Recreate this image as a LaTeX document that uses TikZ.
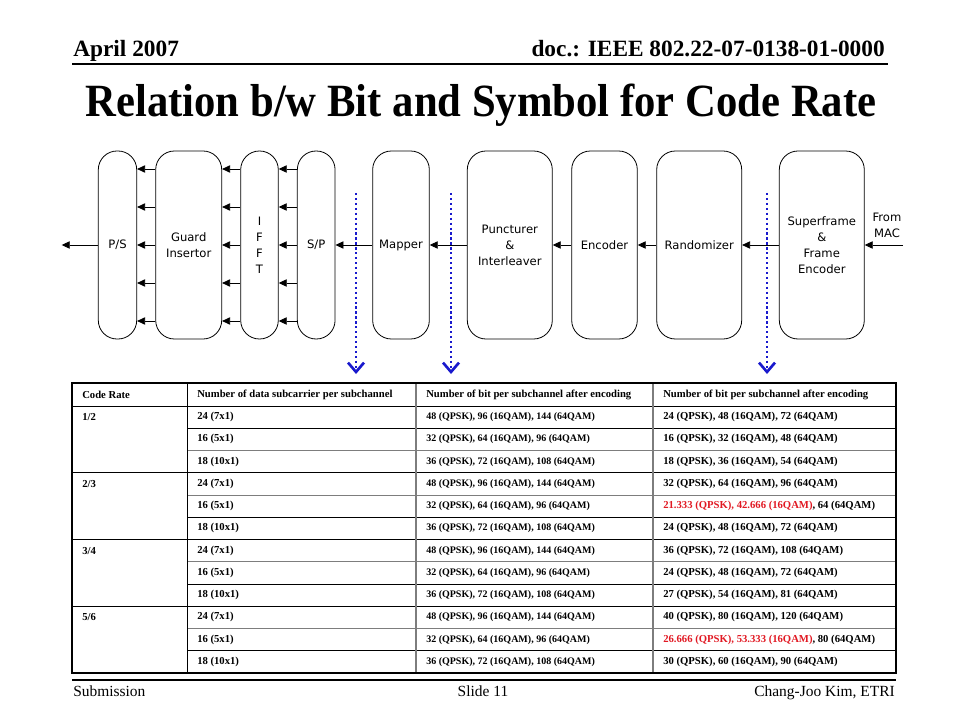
\documentclass[tikz,border=0pt]{standalone}
\usepackage{fontspec}
\setmainfont{Liberation Serif}
\newfontfamily\blockfont{DejaVu Sans}
\usetikzlibrary{arrows.meta}
\definecolor{cutblue}{RGB}{25,25,205}
\definecolor{ratered}{RGB}{225,25,35}
\definecolor{rulegray}{RGB}{125,125,125}
\tikzset{
    blockbox/.style={draw,line width=0.6pt,rounded corners=14pt,minimum height=141pt,
        inner sep=1pt,align=center,font=\blockfont\fontsize{8.7}{11.9}\selectfont},
    sigline/.style={-{Triangle[length=6pt,width=5.5pt]},line width=0.6pt},
    cutline/.style={cutblue,line width=1.7pt,dash pattern=on 1.7pt off 2pt,
        -{Straight Barb[length=7pt,width=12pt,line width=2pt]}},
    cell/.style={anchor=west,inner sep=0pt,font=\bfseries\fontsize{8}{9}\selectfont},
    slidetext/.style={inner sep=0pt,font=\fontsize{11.6}{13}\selectfont},
}
\newcommand\TableCell[4][]{% column x, row, text
    \node[cell,#1] at (#2+10,{406+22.25*(#3-0.5)}) {#4};
}

\begin{document}
\begin{tikzpicture}[x=0.75pt,y=-0.75pt]
    \useasboundingbox (0,0) rectangle (960,720);
    % header and footer
    \node[slidetext,anchor=base west,font=\bfseries\fontsize{17.5}{20}\selectfont] (date) at (73,57) {April 2007};
    \node[slidetext,anchor=base east,font=\bfseries\fontsize{17.5}{20}\selectfont] (doc) at (885,57) {doc.: IEEE 802.22-07-0138-01-0000};
    \draw[line width=0.9pt] (72,64) -- (888,64);
    \node[anchor=base,inner sep=0pt,font=\bfseries\fontsize{33}{36}\selectfont] (title) at (481,117) {\scalebox{0.97}[1.05]{Relation b/w Bit and Symbol for Code Rate}};
    \draw[line width=0.9pt] (72,680) -- (896,680);
    \node[slidetext,anchor=base west] (sub) at (73,696) {Submission};
    \node[slidetext,anchor=base] (slide) at (483,696) {Slide 11};
    \node[slidetext,anchor=base east] (author) at (895,696) {Chang-Joo Kim, ETRI};

    \begin{scope} % blocks
        \node[blockbox,minimum width=28.8pt] (ps) at (117.5,245) {P/S};
        \node[blockbox,minimum width=49.5pt] (gi) at (188.7,245) {Guard\\Insertor};
        \node[blockbox,minimum width=28.2pt] (ifft) at (259.5,245) {I\\F\\F\\T};
        \node[blockbox,minimum width=28.3pt] (sp) at (316.2,245) {S/P};
        \node[blockbox,minimum width=42.5pt] (map) at (401,245) {Mapper};
        \node[blockbox,minimum width=63.75pt] (pil) at (509.8,245) {Puncturer\\\&\\Interleaver};
        \node[blockbox,minimum width=49.2pt] (enc) at (604.5,245) {Encoder};
        \node[blockbox,minimum width=63.75pt] (rnd) at (699.2,245) {Randomizer};
        \node[blockbox,minimum width=63.75pt] (sf) at (821.8,245) {Superframe\\\&\\Frame\\Encoder};
        \node[inner sep=0pt,align=center,font=\blockfont\fontsize{8.7}{11.9}\selectfont] (mac) at (887,225) {From\\MAC};
        \coordinate (Out) at (61.7,245);
        \coordinate (MacIn) at (903,245);
        \foreach \dy in {57,28.5,0,-28.5,-57} {
            \draw[sigline] ([yshift=\dy pt]gi.west) -- ([yshift=\dy pt]ps.east);
            \draw[sigline] ([yshift=\dy pt]ifft.west) -- ([yshift=\dy pt]gi.east);
            \draw[sigline] ([yshift=\dy pt]sp.west) -- ([yshift=\dy pt]ifft.east);
        }
        \draw[sigline] (ps.west) -- (Out);
        \draw[sigline] (map.west) -- (sp.east);
        \draw[sigline] (pil.west) -- (map.east);
        \draw[sigline] (enc.west) -- (pil.east);
        \draw[sigline] (rnd.west) -- (enc.east);
        \draw[sigline] (sf.west) -- (rnd.east);
        \draw[sigline] (MacIn) -- (sf.east);
    \end{scope}

    \begin{scope}[cutblue] % cut points
        \coordinate (CutA) at (356,193);  \coordinate (CutAEnd) at (356,374);
        \coordinate (CutB) at (451,193);  \coordinate (CutBEnd) at (451,374);
        \coordinate (CutC) at (767,193);  \coordinate (CutCEnd) at (767,374);
        \draw[cutline] (CutA) -- (CutAEnd);
        \draw[cutline] (CutB) -- (CutBEnd);
        \draw[cutline] (CutC) -- (CutCEnd);
    \end{scope}

    % table
    \draw[line width=0.7pt] (72,406) -- (896,406);
    \foreach \k in {3,6,9}
        \draw[line width=0.7pt] (72,{406+22.25*\k}) -- (896,{406+22.25*\k});
    \foreach \k/\col in {1/black,2/rulegray,4/rulegray,5/black,7/rulegray,8/black,10/rulegray,11/black}
        \draw[\col,line width=0.7pt] (187,{406+22.25*\k}) -- (896,{406+22.25*\k});
    \draw[line width=0.7pt] (187,383) -- (187,673);
    \draw[rulegray,line width=1.2pt] (416,383) -- (416,673);
    \draw[rulegray,line width=1.2pt] (653,383) -- (653,673);
    \draw[line width=2.2pt] (72,383) rectangle (896,673);
    \TableCell{72}{0}{Code Rate}
    \TableCell{187}{0}{Number of data subcarrier per subchannel}
    \TableCell{416}{0}{Number of bit per subchannel after encoding}
    \TableCell{653}{0}{Number of bit per subchannel after encoding}
    \foreach \rate [count=\g from 0] in {1/2,2/3,3/4,5/6} {
        \TableCell{72}{3*\g+1}{\rate}
        \foreach \sub/\bits [count=\s] in {{24 (7x1)}/{48 (QPSK), 96 (16QAM), 144 (64QAM)},
                {16 (5x1)}/{32 (QPSK), 64 (16QAM), 96 (64QAM)},
                {18 (10x1)}/{36 (QPSK), 72 (16QAM), 108 (64QAM)}} {
            \TableCell{187}{3*\g+\s}{\sub}
            \TableCell[font=\bfseries\fontsize{7.5}{9}\selectfont]{416}{3*\g+\s}{\bits}
        }
    }
    \foreach \r/\sym in {1/{24 (QPSK), 48 (16QAM), 72 (64QAM)},
            2/{16 (QPSK), 32 (16QAM), 48 (64QAM)},
            3/{18 (QPSK), 36 (16QAM), 54 (64QAM)},
            4/{32 (QPSK), 64 (16QAM), 96 (64QAM)},
            5/{\textcolor{ratered}{21.333 (QPSK), 42.666 (16QAM)}, 64 (64QAM)},
            6/{24 (QPSK), 48 (16QAM), 72 (64QAM)},
            7/{36 (QPSK), 72 (16QAM), 108 (64QAM)},
            8/{24 (QPSK), 48 (16QAM), 72 (64QAM)},
            9/{27 (QPSK), 54 (16QAM), 81 (64QAM)},
            10/{40 (QPSK), 80 (16QAM), 120 (64QAM)},
            11/{\textcolor{ratered}{26.666 (QPSK), 53.333 (16QAM)}, 80 (64QAM)},
            12/{30 (QPSK), 60 (16QAM), 90 (64QAM)}} {
        \TableCell{653}{\r}{\sym}
    }
\end{tikzpicture}
\end{document}
